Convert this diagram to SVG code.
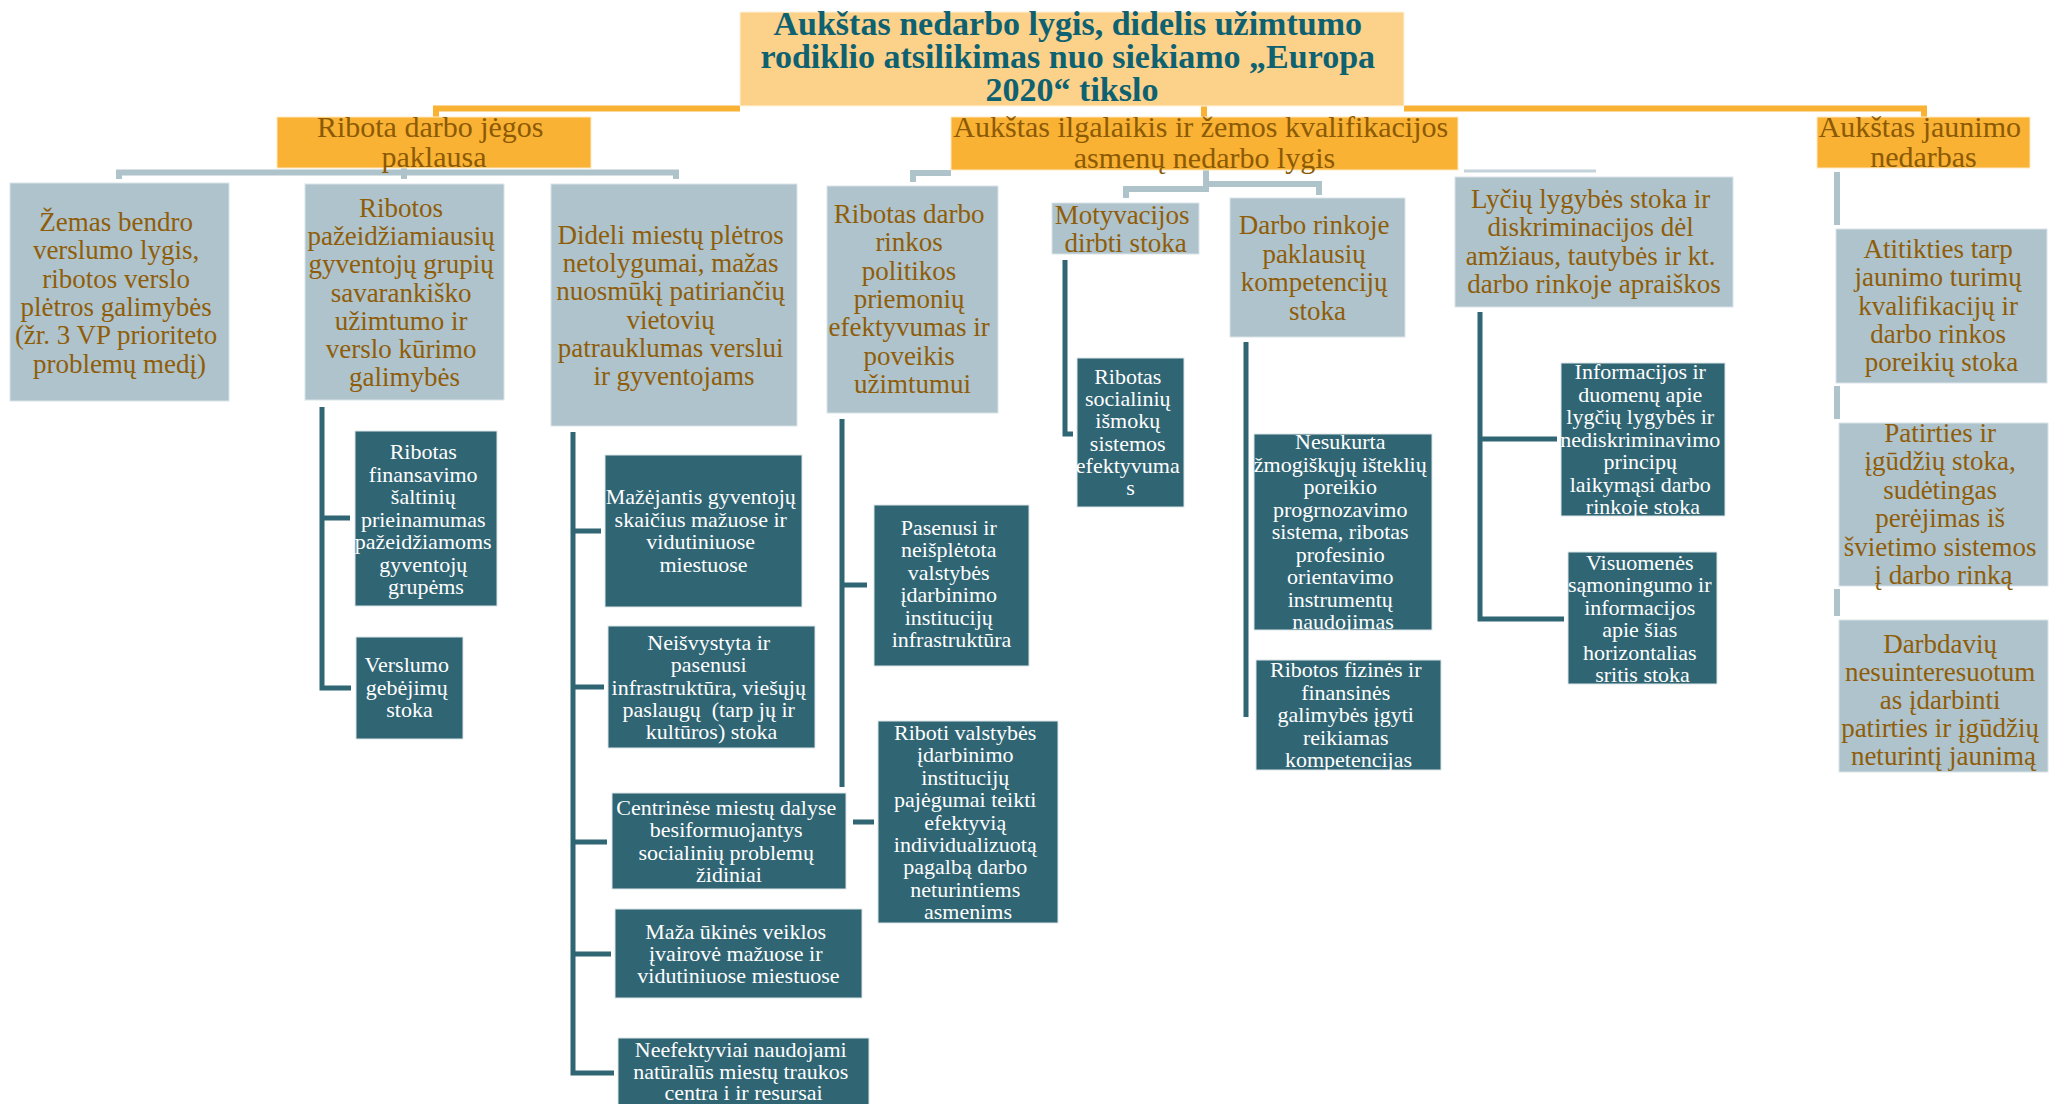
<svg xmlns="http://www.w3.org/2000/svg" width="2051" height="1104" viewBox="0 0 2051 1104">
  <style>
    .bg { fill: #ffffff; }
    .root-box { fill: #FCD18A; stroke: #FFF3DC; stroke-width: 1; }
    .l1-box { fill: #F9B233; stroke: #FFE9C2; stroke-width: 1; }
    .gray-box { fill: #AEC3CB; stroke: #D9E3E7; stroke-width: 1; }
    .dark-box { fill: #306574; stroke: #DCE5E8; stroke-width: 1; }
    text { font-family: "Liberation Serif", "Times New Roman", serif; text-anchor: middle; }
    .t-root { font-size: 34px; font-weight: bold; fill: #0D6171; }
    .t-l1 { font-size: 30px; fill: #8C5A04; }
    .t-gray { font-size: 27px; fill: #8F5D0A; }
    .t-dark { font-size: 22px; fill: #ffffff; }
    .c-or { fill: none; stroke: #F9B233; stroke-width: 6; }
    .c-lt { fill: none; stroke: #AFC3CB; stroke-width: 6; }
    .c-lt-thin { fill: none; stroke: #C3D3D9; stroke-width: 3; }
    .c-dk { fill: none; stroke: #306574; stroke-width: 5; }
  </style>

  <rect class="bg" x="0" y="0" width="2051" height="1104"/>

  <!-- connectors -->
  <g id="connectors">
    <!-- root to first level -->
    <path class="c-or" d="M436,117 V108.5 H740"/>
    <path class="c-or" d="M1404,108.5 H1924 V117"/>
    <path class="c-or" d="M1204,106 V117"/>

    <!-- Ribota darbo jėgos paklausa -->
    <path class="c-lt" d="M119,179 V172.5 H676 V179"/>
    <path class="c-lt" d="M404,168 V179"/>

    <!-- Aukštas ilgalaikis ... -->
    <path class="c-lt" d="M913,182 V173 H951"/>
    <path class="c-lt" d="M1126,198 V189 H1206 V170"/>
    <path class="c-lt" d="M1206,184 H1319 V195"/>
    <path class="c-lt-thin" d="M1464,171 H1596"/>

    <!-- Aukštas jaunimo nedarbas -->
    <path class="c-lt" d="M1837,172 V225"/>
    <path class="c-lt" d="M1837,386 V419"/>
    <path class="c-lt" d="M1837,589 V616"/>

    <!-- Ribotos pažeidžiamiausių ... -->
    <path class="c-dk" d="M322,407 V688 H351 M322,518 H350"/>

    <!-- Dideli miestų plėtros ... -->
    <path class="c-dk" d="M573,432 V1073 H614 M573,531 H601 M573,687 H604 M573,842 H607 M573,954 H611"/>

    <!-- Ribotas darbo rinkos ... -->
    <path class="c-dk" d="M842,419 V787 M842,585 H867 M853,822 H874"/>

    <!-- Motyvacijos dirbti stoka -->
    <path class="c-dk" d="M1065,260 V434 H1073"/>

    <!-- Darbo rinkoje paklausių kompetencijų stoka -->
    <path class="c-dk" d="M1246,342 V717"/>

    <!-- Lyčių lygybės stoka ... -->
    <path class="c-dk" d="M1480,312 V619 H1564 M1480,439 H1557"/>
  </g>

  <!-- root -->
  <g id="root">
    <rect class="root-box" x="740" y="12" width="664" height="94"/>
    <text class="t-root" x="1072">
      <tspan x="1072" y="35">Aukštas nedarbo lygis, didelis užimtumo</tspan>
      <tspan x="1072" y="68">rodiklio atsilikimas nuo siekiamo „Europa</tspan>
      <tspan x="1072" y="101">2020“ tikslo</tspan>
    </text>
  </g>

  <!-- first level -->
  <g id="ribota-paklausa">
    <rect class="l1-box" x="277" y="117" width="314" height="51"/>
    <text class="t-l1">
      <tspan x="434" y="137">Ribota darbo jėgos</tspan>
      <tspan x="434" y="167">paklausa</tspan>
    </text>
  </g>
  <g id="ilgalaikis-nedarbas">
    <rect class="l1-box" x="951" y="117" width="507" height="53"/>
    <text class="t-l1">
      <tspan x="1204.5" y="137">Aukštas ilgalaikis ir žemos kvalifikacijos</tspan>
      <tspan x="1204.5" y="168">asmenų nedarbo lygis</tspan>
    </text>
  </g>
  <g id="jaunimo-nedarbas">
    <rect class="l1-box" x="1817" y="117" width="213" height="51"/>
    <text class="t-l1">
      <tspan x="1923.5" y="137">Aukštas jaunimo</tspan>
      <tspan x="1923.5" y="167">nedarbas</tspan>
    </text>
  </g>

  <!-- second level -->
  <g id="verslumo-lygis">
    <rect class="gray-box" x="10" y="183" width="219" height="218"/>
    <text class="t-gray">
      <tspan x="119.5" y="231">Žemas bendro</tspan>
      <tspan x="119.5" y="259.3">verslumo lygis,</tspan>
      <tspan x="119.5" y="287.6">ribotos verslo</tspan>
      <tspan x="119.5" y="315.9">plėtros galimybės</tspan>
      <tspan x="119.5" y="344.2">(žr. 3 VP prioriteto</tspan>
      <tspan x="119.5" y="372.5">problemų medį)</tspan>
    </text>
  </g>
  <g id="pazeidziamiausiu-grupiu">
    <rect class="gray-box" x="305" y="184" width="199" height="216"/>
    <text class="t-gray">
      <tspan x="404.5" y="217">Ribotos</tspan>
      <tspan x="404.5" y="245.2">pažeidžiamiausių</tspan>
      <tspan x="404.5" y="273.4">gyventojų grupių</tspan>
      <tspan x="404.5" y="301.6">savarankiško</tspan>
      <tspan x="404.5" y="329.8">užimtumo ir</tspan>
      <tspan x="404.5" y="358">verslo kūrimo</tspan>
      <tspan x="404.5" y="386.2">galimybės</tspan>
    </text>
  </g>
  <g id="miestu-pletros">
    <rect class="gray-box" x="551" y="184" width="246" height="242"/>
    <text class="t-gray">
      <tspan x="674" y="244">Dideli miestų plėtros</tspan>
      <tspan x="674" y="272.2">netolygumai, mažas</tspan>
      <tspan x="674" y="300.4">nuosmūkį patiriančių</tspan>
      <tspan x="674" y="328.6">vietovių</tspan>
      <tspan x="674" y="356.8">patrauklumas verslui</tspan>
      <tspan x="674" y="385">ir gyventojams</tspan>
    </text>
  </g>
  <g id="darbo-rinkos-politikos">
    <rect class="gray-box" x="827" y="186" width="171" height="227"/>
    <text class="t-gray">
      <tspan x="912.5" y="223">Ribotas darbo</tspan>
      <tspan x="912.5" y="251.3">rinkos</tspan>
      <tspan x="912.5" y="279.6">politikos</tspan>
      <tspan x="912.5" y="307.9">priemonių</tspan>
      <tspan x="912.5" y="336.2">efektyvumas ir</tspan>
      <tspan x="912.5" y="364.5">poveikis</tspan>
      <tspan x="912.5" y="392.8">užimtumui</tspan>
    </text>
  </g>
  <g id="motyvacijos">
    <rect class="gray-box" x="1052" y="203" width="147" height="51"/>
    <text class="t-gray">
      <tspan x="1125.5" y="224">Motyvacijos</tspan>
      <tspan x="1125.5" y="252">dirbti stoka</tspan>
    </text>
  </g>
  <g id="kompetenciju-stoka">
    <rect class="gray-box" x="1230" y="198" width="175" height="139"/>
    <text class="t-gray">
      <tspan x="1317.5" y="234">Darbo rinkoje</tspan>
      <tspan x="1317.5" y="262.7">paklausių</tspan>
      <tspan x="1317.5" y="291.4">kompetencijų</tspan>
      <tspan x="1317.5" y="320.1">stoka</tspan>
    </text>
  </g>
  <g id="lyciu-lygybe">
    <rect class="gray-box" x="1455" y="177" width="278" height="130"/>
    <text class="t-gray">
      <tspan x="1594" y="208">Lyčių lygybės stoka ir</tspan>
      <tspan x="1594" y="236.3">diskriminacijos dėl</tspan>
      <tspan x="1594" y="264.6">amžiaus, tautybės ir kt.</tspan>
      <tspan x="1594" y="292.9">darbo rinkoje apraiškos</tspan>
    </text>
  </g>
  <g id="atitikties-stoka">
    <rect class="gray-box" x="1836" y="229" width="211" height="154"/>
    <text class="t-gray">
      <tspan x="1941.5" y="258">Atitikties tarp</tspan>
      <tspan x="1941.5" y="286.3">jaunimo turimų</tspan>
      <tspan x="1941.5" y="314.6">kvalifikacijų ir</tspan>
      <tspan x="1941.5" y="342.9">darbo rinkos</tspan>
      <tspan x="1941.5" y="371.2">poreikių stoka</tspan>
    </text>
  </g>
  <g id="patirties-stoka">
    <rect class="gray-box" x="1839" y="423" width="209" height="163"/>
    <text class="t-gray">
      <tspan x="1943.5" y="442">Patirties ir</tspan>
      <tspan x="1943.5" y="470.4">įgūdžių stoka,</tspan>
      <tspan x="1943.5" y="498.8">sudėtingas</tspan>
      <tspan x="1943.5" y="527.2">perėjimas iš</tspan>
      <tspan x="1943.5" y="555.6">švietimo sistemos</tspan>
      <tspan x="1943.5" y="584">į darbo rinką</tspan>
    </text>
  </g>
  <g id="darbdaviu-nesuinteresuotumas">
    <rect class="gray-box" x="1839" y="620" width="209" height="152"/>
    <text class="t-gray">
      <tspan x="1943.5" y="653">Darbdavių</tspan>
      <tspan x="1943.5" y="681">nesuinteresuotum</tspan>
      <tspan x="1943.5" y="709">as įdarbinti</tspan>
      <tspan x="1943.5" y="737">patirties ir įgūdžių</tspan>
      <tspan x="1943.5" y="765">neturintį jaunimą</tspan>
    </text>
  </g>

  <!-- third level -->
  <g id="finansavimo-saltiniai">
    <rect class="dark-box" x="355" y="431" width="142" height="175"/>
    <text class="t-dark">
      <tspan x="426" y="459">Ribotas</tspan>
      <tspan x="426" y="481.5">finansavimo</tspan>
      <tspan x="426" y="504">šaltinių</tspan>
      <tspan x="426" y="526.5">prieinamumas</tspan>
      <tspan x="426" y="549">pažeidžiamoms</tspan>
      <tspan x="426" y="571.5">gyventojų</tspan>
      <tspan x="426" y="594">grupėms</tspan>
    </text>
  </g>
  <g id="verslumo-gebejimai">
    <rect class="dark-box" x="356" y="637" width="107" height="102"/>
    <text class="t-dark">
      <tspan x="409.5" y="672">Verslumo</tspan>
      <tspan x="409.5" y="694.5">gebėjimų</tspan>
      <tspan x="409.5" y="717">stoka</tspan>
    </text>
  </g>
  <g id="gyventoju-skaicius">
    <rect class="dark-box" x="605" y="455" width="197" height="152"/>
    <text class="t-dark">
      <tspan x="703.5" y="504">Mažėjantis gyventojų</tspan>
      <tspan x="703.5" y="526.7">skaičius mažuose ir</tspan>
      <tspan x="703.5" y="549.4">vidutiniuose</tspan>
      <tspan x="703.5" y="572.1">miestuose</tspan>
    </text>
  </g>
  <g id="infrastruktura">
    <rect class="dark-box" x="608" y="626" width="207" height="122"/>
    <text class="t-dark">
      <tspan x="711.5" y="650">Neišvystyta ir</tspan>
      <tspan x="711.5" y="672.3">pasenusi</tspan>
      <tspan x="711.5" y="694.6">infrastruktūra, viešųjų</tspan>
      <tspan x="711.5" y="716.9">paslaugų&#160; (tarp jų ir</tspan>
      <tspan x="711.5" y="739.2">kultūros) stoka</tspan>
    </text>
  </g>
  <g id="socialiniu-problemu-zidiniai">
    <rect class="dark-box" x="612" y="793" width="234" height="96"/>
    <text class="t-dark">
      <tspan x="729" y="815">Centrinėse miestų dalyse</tspan>
      <tspan x="729" y="837.4">besiformuojantys</tspan>
      <tspan x="729" y="859.8">socialinių problemų</tspan>
      <tspan x="729" y="882.2">židiniai</tspan>
    </text>
  </g>
  <g id="ukines-veiklos-ivairove">
    <rect class="dark-box" x="615" y="909" width="247" height="89"/>
    <text class="t-dark">
      <tspan x="738.5" y="939">Maža ūkinės veiklos</tspan>
      <tspan x="738.5" y="961">įvairovė mažuose ir</tspan>
      <tspan x="738.5" y="983">vidutiniuose miestuose</tspan>
    </text>
  </g>
  <g id="traukos-centrai">
    <rect class="dark-box" x="618" y="1038" width="251" height="72"/>
    <text class="t-dark">
      <tspan x="743.5" y="1057">Neefektyviai naudojami</tspan>
      <tspan x="743.5" y="1078.7">natūralūs miestų traukos</tspan>
      <tspan x="743.5" y="1100.4">centra i ir resursai</tspan>
    </text>
  </g>
  <g id="idarbinimo-infrastruktura">
    <rect class="dark-box" x="874" y="505" width="155" height="161"/>
    <text class="t-dark">
      <tspan x="951.5" y="535">Pasenusi ir</tspan>
      <tspan x="951.5" y="557.4">neišplėtota</tspan>
      <tspan x="951.5" y="579.8">valstybės</tspan>
      <tspan x="951.5" y="602.2">įdarbinimo</tspan>
      <tspan x="951.5" y="624.6">institucijų</tspan>
      <tspan x="951.5" y="647">infrastruktūra</tspan>
    </text>
  </g>
  <g id="idarbinimo-pajegumai">
    <rect class="dark-box" x="878" y="721" width="180" height="202"/>
    <text class="t-dark">
      <tspan x="968" y="740">Riboti valstybės</tspan>
      <tspan x="968" y="762.4">įdarbinimo</tspan>
      <tspan x="968" y="784.8">institucijų</tspan>
      <tspan x="968" y="807.2">pajėgumai teikti</tspan>
      <tspan x="968" y="829.6">efektyvią</tspan>
      <tspan x="968" y="852">individualizuotą</tspan>
      <tspan x="968" y="874.4">pagalbą darbo</tspan>
      <tspan x="968" y="896.8">neturintiems</tspan>
      <tspan x="968" y="919.2">asmenims</tspan>
    </text>
  </g>
  <g id="ismoku-sistema">
    <rect class="dark-box" x="1077" y="358" width="107" height="149"/>
    <text class="t-dark">
      <tspan x="1130.5" y="384">Ribotas</tspan>
      <tspan x="1130.5" y="406.2">socialinių</tspan>
      <tspan x="1130.5" y="428.4">išmokų</tspan>
      <tspan x="1130.5" y="450.6">sistemos</tspan>
      <tspan x="1130.5" y="472.8">efektyvuma</tspan>
      <tspan x="1130.5" y="495">s</tspan>
    </text>
  </g>
  <g id="istekliu-prognozavimas">
    <rect class="dark-box" x="1254" y="434" width="178" height="196"/>
    <text class="t-dark">
      <tspan x="1343" y="449">Nesukurta</tspan>
      <tspan x="1343" y="471.5">žmogiškųjų išteklių</tspan>
      <tspan x="1343" y="494">poreikio</tspan>
      <tspan x="1343" y="516.5">progrnozavimo</tspan>
      <tspan x="1343" y="539">sistema, ribotas</tspan>
      <tspan x="1343" y="561.5">profesinio</tspan>
      <tspan x="1343" y="584">orientavimo</tspan>
      <tspan x="1343" y="606.5">instrumentų</tspan>
      <tspan x="1343" y="629">naudojimas</tspan>
    </text>
  </g>
  <g id="fizines-finansines-galimybes">
    <rect class="dark-box" x="1256" y="660" width="185" height="110"/>
    <text class="t-dark">
      <tspan x="1348.5" y="677">Ribotos fizinės ir</tspan>
      <tspan x="1348.5" y="699.5">finansinės</tspan>
      <tspan x="1348.5" y="722">galimybės įgyti</tspan>
      <tspan x="1348.5" y="744.5">reikiamas</tspan>
      <tspan x="1348.5" y="767">kompetencijas</tspan>
    </text>
  </g>
  <g id="lygybes-duomenys">
    <rect class="dark-box" x="1561" y="363" width="164" height="153"/>
    <text class="t-dark">
      <tspan x="1643" y="379">Informacijos ir</tspan>
      <tspan x="1643" y="401.5">duomenų apie</tspan>
      <tspan x="1643" y="424">lygčių lygybės ir</tspan>
      <tspan x="1643" y="446.5">nediskriminavimo</tspan>
      <tspan x="1643" y="469">principų</tspan>
      <tspan x="1643" y="491.5">laikymąsi darbo</tspan>
      <tspan x="1643" y="514">rinkoje stoka</tspan>
    </text>
  </g>
  <g id="visuomenes-samoningumas">
    <rect class="dark-box" x="1568" y="552" width="149" height="132"/>
    <text class="t-dark">
      <tspan x="1642.5" y="570">Visuomenės</tspan>
      <tspan x="1642.5" y="592.4">sąmoningumo ir</tspan>
      <tspan x="1642.5" y="614.8">informacijos</tspan>
      <tspan x="1642.5" y="637.2">apie šias</tspan>
      <tspan x="1642.5" y="659.6">horizontalias</tspan>
      <tspan x="1642.5" y="682">sritis stoka</tspan>
    </text>
  </g>
</svg>
